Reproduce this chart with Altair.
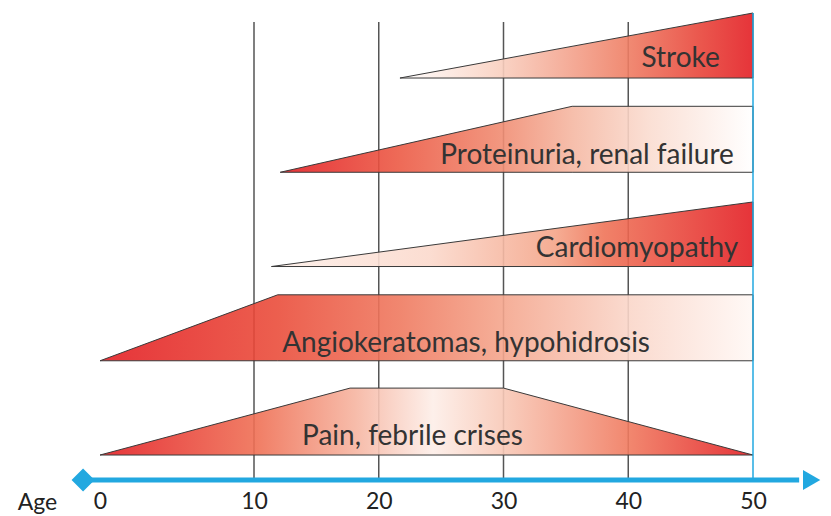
import altair as alt
import pandas as pd

# ---- data ----
tick_ages = [0, 10, 20, 30, 40, 50]
grid_ages = [10, 20, 30, 40]

row_names = ["Pain, febrile crises", "Angiokeratomas, hypohidrosis",
             "Cardiomyopathy", "Proteinuria, renal failure", "Stroke"]
row_base = [0, 1, 2, 3, 4]

pain_age = [0, 17.7, 30, 50]
pain_h = [0, 0.71, 0.71, 0]
angio_age = [0, 11.9, 50]
angio_h = [0, 0.70, 0.70]
cardio_age = [11.4, 50]
cardio_h = [0, 0.685]
prot_age = [12.1, 35.5, 50]
prot_h = [0, 0.70, 0.70]
stroke_age = [21.7, 50]
stroke_h = [0, 0.69]

label_age = [22.7, 27.0, 40.7, 36.7, 44.2]
label_off = [0.19, 0.18, 0.19, 0.17, 0.20]

grid_top = 4.594
axis_lvl = -0.265
top_lvl = 4.743
end50_top = 4.69
arrow_from = -1.1
arrow_to = 54.7

RED = "#e31e24"
CYAN = "#22a8e0"
FONT = "Lato"

x_scale = alt.Scale(domain=[0, 10, 50], range=[92, 246, 745])
y_scale = alt.Scale(domain=[axis_lvl, top_lvl], nice=False, zero=False)
x_axis = alt.Axis(values=tick_ages, domain=False, ticks=False, grid=False,
                  labelFontSize=23, labelFont=FONT, labelColor="#222",
                  labelPadding=10, labelFlush=False,
                  title="Age", titleFontSize=23, titleFont=FONT,
                  titleFontWeight="normal", titleColor="#222",
                  titleX=29, titleY=22, titleAlign="center",
                  titleBaseline="middle", titleAngle=0)


def X():
    return alt.X("age:Q", scale=x_scale, axis=x_axis)


def Y(f="y"):
    return alt.Y(f"{f}:Q", scale=y_scale, axis=None)


def grad(stops):
    return alt.Gradient(gradient="linear", x1=0, x2=1, y1=0, y2=0,
                        stops=[alt.GradientStop(offset=o, color=c) for o, c in stops])


def shape(ages, hs, base, stops):
    df = pd.DataFrame({"age": ages, "y": [base + h for h in hs], "y2": [base] * len(ages)})
    return alt.Chart(df).mark_area(fill=grad(stops), fillOpacity=0.9, stroke="#3a3a3a",
                                   strokeWidth=1, interpolate="linear").encode(
        x=X(), y=Y("y"), y2="y2:Q")


grid_df = pd.DataFrame({"age": grid_ages, "y": [grid_top] * len(grid_ages),
                        "y2": [axis_lvl] * len(grid_ages)})
grid = alt.Chart(grid_df).mark_rule(color="#555555", strokeWidth=1.5).encode(
    x=X(), y=Y("y"), y2="y2:Q")

pain = shape(pain_age, pain_h, row_base[0],
             [(0, RED), (0.24, "#ef7055"), (0.39, "#f6b4a0"), (0.51, "#fdeee8"),
              (0.62, "#f8c8b6"), (0.81, "#f07a5f"), (1, RED)])
angio = shape(angio_age, angio_h, row_base[1],
              [(0, RED), (0.27, "#ea4d3b"), (0.46, "#ef7a60"), (0.61, "#f4a48b"),
               (0.81, "#fad6c9"), (1, "#fff8f5")])
cardio = shape(cardio_age, cardio_h, row_base[2],
               [(0, "#fdf0ea"), (0.33, "#fbd9cc"), (0.59, "#f4a488"),
                (0.69, "#ef7458"), (1, RED)])
prot = shape(prot_age, prot_h, row_base[3],
             [(0, RED), (0.25, "#ec5a45"), (0.46, "#f08a70"), (0.62, "#f5b8a3"),
              (0.78, "#fadcd0"), (1, "#ffffff")])
stroke = shape(stroke_age, stroke_h, row_base[4],
               [(0, "#ffffff"), (0.28, "#f9d0c0"), (0.64, "#ef7f65"),
                (0.85, "#e8453a"), (1, RED)])

end_df = pd.DataFrame({"age": [50], "y": [end50_top], "y2": [axis_lvl]})
end50 = alt.Chart(end_df).mark_rule(color=CYAN, strokeWidth=1.5).encode(
    x=X(), y=Y("y"), y2="y2:Q")

axis_df = pd.DataFrame({"age": [arrow_from + 0.5], "age2": [arrow_to - 1.0], "y": [axis_lvl]})
axis_line = alt.Chart(axis_df).mark_rule(color=CYAN, strokeWidth=5).encode(
    x=X(), x2="age2:Q", y=Y("y"))

diam_df = pd.DataFrame({"age": [arrow_from], "y": [axis_lvl]})
diamond = alt.Chart(diam_df).mark_point(shape="diamond", filled=True, size=530,
                                        color=CYAN, opacity=1).encode(x=X(), y=Y("y"))
tri_df = pd.DataFrame({"age": [arrow_to], "y": [axis_lvl]})
tri = alt.Chart(tri_df).mark_point(shape="triangle-right", filled=True, size=400,
                                   color=CYAN, opacity=1).encode(x=X(), y=Y("y"))

lab_df = pd.DataFrame({"age": label_age,
                       "y": [b + o for b, o in zip(row_base, label_off)],
                       "label": row_names})
labels = alt.Chart(lab_df).mark_text(font=FONT, fontSize=28, color="#333333",
                                     align="center", baseline="middle").encode(
    x=X(), y=Y("y"), text="label:N")

chart = alt.layer(grid, pain, angio, cardio, prot, stroke, end50, axis_line,
                  diamond, tri, labels).properties(
    width=815, height=472,
    autosize=alt.AutoSizeParams(type="none"),
    padding={"left": 0, "top": 0, "right": 0, "bottom": 34},
).configure_view(stroke=None)

chart.save("out.html", embed_options={"renderer": "svg", "actions": False})
